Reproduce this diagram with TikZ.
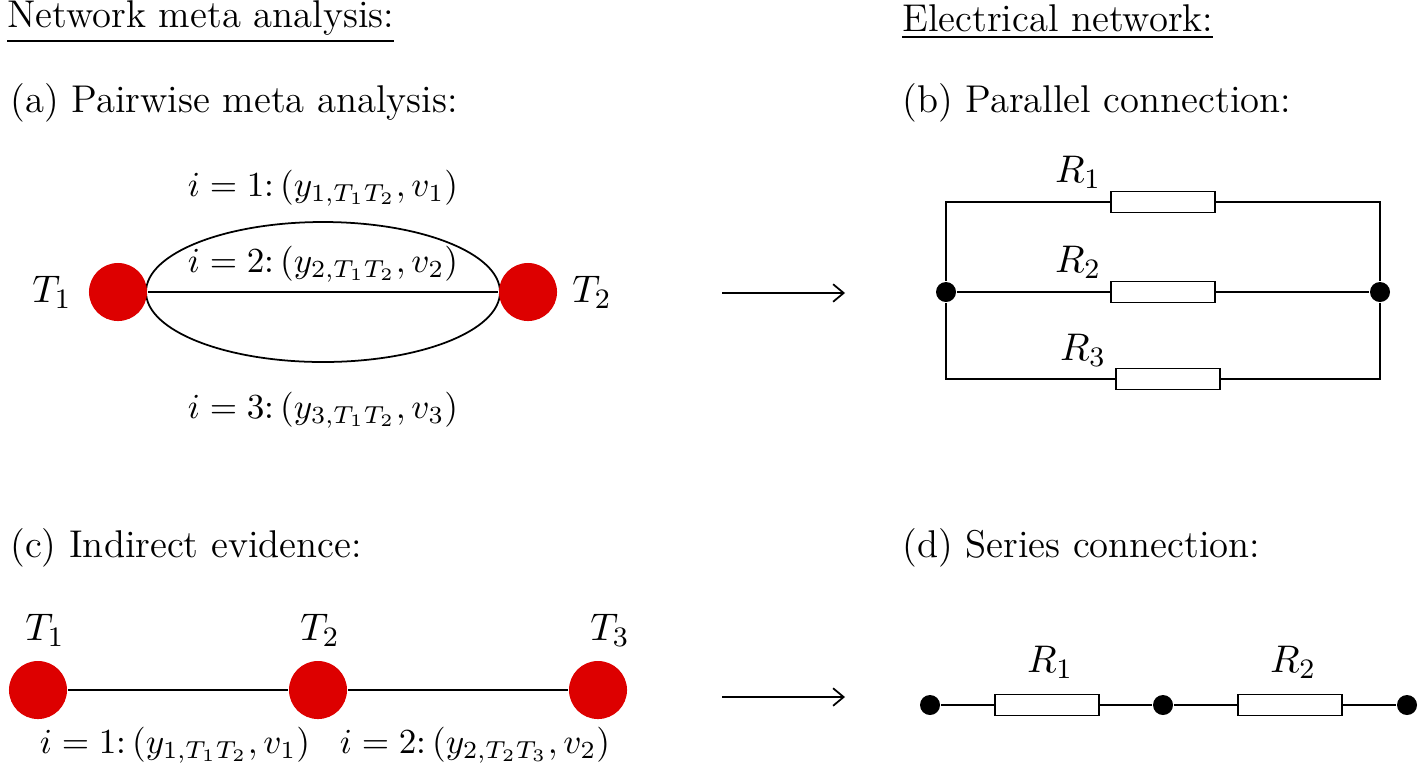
\documentclass[tikz,border=0pt]{standalone}
\usepackage{amsmath}
\usetikzlibrary{arrows.meta}
\definecolor{nodered}{RGB}{221,0,0}
\tikzset{
  treat/.style={circle,fill=nodered,minimum size=0.58cm,inner sep=0pt},
  junction/.style={circle,fill=black,minimum size=0.2cm,inner sep=0pt},
  resistor/.style={draw,fill=white,minimum width=1.04cm,minimum height=0.21cm,inner sep=0pt},
  txt/.style={font=\fontsize{11}{13}\selectfont,inner sep=1pt},
  elab/.style={font=\fontsize{10}{12}\selectfont,inner sep=1pt},
  arr/.style={-{Straight Barb[length=3pt,width=5pt]},line width=0.5pt}
}
\begin{document}
\begin{tikzpicture}[x={(0.01cm,0)},y={(0,-0.01cm)},line width=0.5pt]
    \useasboundingbox (0,0) rectangle (1419,775);
    % titles
    \node[txt,anchor=west] (tl) at (3,22) {\underline{Network meta analysis:}};
    \node[txt,anchor=west] (tr) at (898,22) {\underline{Electrical network:}};
    \node[txt,anchor=west] (la) at (6,103) {(a) Pairwise meta analysis:};
    \node[txt,anchor=west] (lb) at (898,103) {(b) Parallel connection:};
    \node[txt,anchor=west] (lc) at (6,548) {(c) Indirect evidence:};
    \node[txt,anchor=west] (ld) at (898,548) {(d) Series connection:};

    % (a) pairwise
    \draw (323,292) ellipse [x radius=177, y radius=70];
    \node[treat] (t1) at (118,292) {};
    \node[treat] (t2) at (528,292) {};
    \draw (t1) -- (t2);
    \node[txt] at (52,292) {$T_1$};
    \node[txt] at (592,292) {$T_2$};
    \node[elab] at (323,188) {$i=1$:\,$(y_{1,T_1T_2},v_1)$};
    \node[elab] at (323,264) {$i=2$:\,$(y_{2,T_1T_2},v_2)$};
    \node[elab] at (323,410) {$i=3$:\,$(y_{3,T_1T_2},v_3)$};

    \coordinate (a1) at (722,293);
    \coordinate (a2) at (845,293);
    \draw[arr] (a1) -- (a2);

    % (b) parallel
    \node[junction] (jl) at (946,292) {};
    \node[junction] (jr) at (1380,292) {};
    \coordinate (tl1) at (946,202); \coordinate (tr1) at (1380,202);
    \coordinate (bl1) at (946,379); \coordinate (br1) at (1380,379);
    \draw (jl) -- (tl1) -- (tr1) -- (jr) -- (br1) -- (bl1) -- (jl) -- (jr);
    \node[resistor] (r1) at (1163,202) {};
    \node[resistor] (r2) at (1163,292) {};
    \node[resistor] (r3) at (1168,379) {};
    \node[txt] at (1078,172) {$R_1$};
    \node[txt] at (1078,262) {$R_2$};
    \node[txt] at (1083,350) {$R_3$};

    % (c) indirect
    \node[treat] (c1) at (38,690) {};
    \node[treat] (c2) at (318,690) {};
    \node[treat] (c3) at (598,690) {};
    \draw (c1) -- (c2) -- (c3);
    \node[txt] at (45,630) {$T_1$};
    \node[txt] at (320,630) {$T_2$};
    \node[txt] at (610,630) {$T_3$};
    \node[elab] at (175,745) {$i=1$:\,$(y_{1,T_1T_2},v_1)$};
    \node[elab] at (475,745) {$i=2$:\,$(y_{2,T_2T_3},v_2)$};

    \coordinate (b1) at (722,697);
    \coordinate (b2) at (845,697);
    \draw[arr] (b1) -- (b2);

    % (d) series
    \node[junction] (s1) at (930,705) {};
    \node[junction] (s2) at (1163,705) {};
    \node[junction] (s3) at (1407,705) {};
    \draw (s1) -- (s2) -- (s3);
    \node[resistor] (q1) at (1047,705) {};
    \node[resistor] (q2) at (1290,705) {};
    \node[txt] at (1050,662) {$R_1$};
    \node[txt] at (1293,662) {$R_2$};
\end{tikzpicture}
\end{document}
